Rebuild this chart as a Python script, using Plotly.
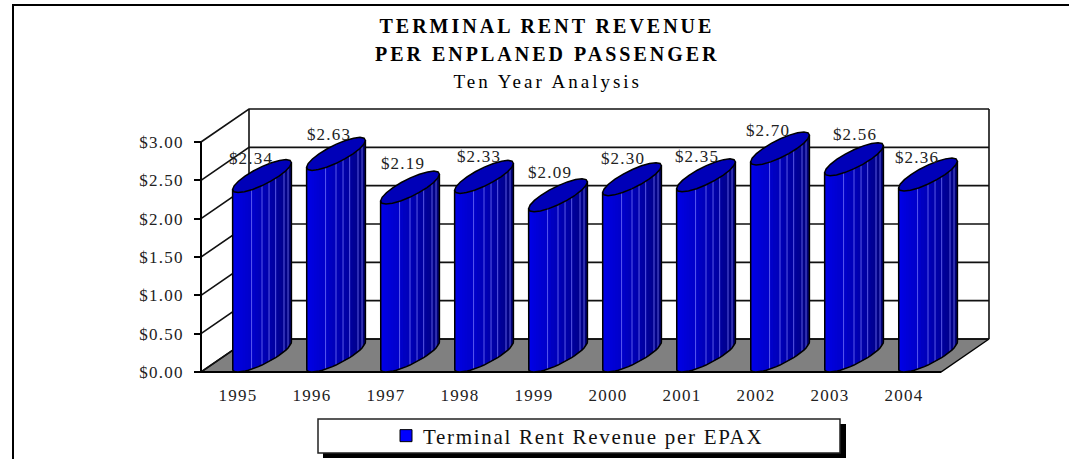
import math
import plotly.graph_objects as go

# ---- data ----
years = ["1995", "1996", "1997", "1998", "1999", "2000", "2001", "2002", "2003", "2004"]
revenue = [2.34, 2.63, 2.19, 2.33, 2.09, 2.30, 2.35, 2.70, 2.56, 2.36]
value_ticks = [0, 0.5, 1.0, 1.5, 2.0, 2.5, 3.0]
value_tick_labels = ["$0.00", "$0.50", "$1.00", "$1.50", "$2.00", "$2.50", "$3.00"]
series_name = "Terminal Rent Revenue per EPAX"

# ---- geometry of the oblique projection ----
W, H = 1069, 459
L, R, T, B = 201, 941, 142, 372          # front plane in pixels
PX_X = (R - L) / len(years)
PX_Y = (B - T) / 3.0
DX = 48 / PX_X                           # depth in category units
DY = 33 / PX_Y                           # depth in value units
HALF_W = 17 / PX_X                       # half width of a column


def pap_x(px):
    return px / W


def pap_y(py):
    return 1 - py / H


def ell(i, level, t):
    cx = i + DX / 2
    cy = level + DY / 2
    return cx + math.cos(t) * HALF_W + math.sin(t) * DX / 2, cy + math.sin(t) * DY / 2


T_R = math.atan2(DX / 2, HALF_W)
T_L = T_R - math.pi
N_STRIP = 26
N_RING = 20
t_edges = [T_L + (T_R - T_L) * k / N_STRIP for k in range(N_STRIP + 1)]


def strip_color(k):
    f = k / (N_STRIP - 1)
    if f < 0.4:
        blue = 240 - 40 * f / 0.4
    else:
        blue = 200 - 95 * (f - 0.4) / 0.6
    return f"rgb(0,0,{int(blue)})"


n = len(years)
cats = list(range(n))
fig = go.Figure()

# the series itself (front-left part of each column; the shaded body sits on it)
fig.add_trace(go.Bar(
    x=cats, y=revenue, name=series_name, width=0.16, offset=-0.07,
    marker=dict(color="#0000ff", line=dict(color="black", width=1)),
    showlegend=True, hoverinfo="skip",
))

# walls and floor
back_l, back_r = -0.5 + DX, n - 0.5 + DX
fig.add_trace(go.Scatter(
    x=[-0.5, n - 0.5, back_r, back_l, -0.5], y=[0, 0, DY, DY, 0],
    mode="lines", line=dict(color="black", width=1.5), fill="toself", fillcolor="#808080",
    showlegend=False, hoverinfo="skip"))
gx, gy = [], []
for v in value_ticks:
    gx += [-0.5, back_l, back_r, None]
    gy += [v, v + DY, v + DY, None]
gx += [back_l, back_l, None, back_r, back_r, None]
gy += [DY, 3 + DY, None, DY, 3 + DY, None]
fig.add_trace(go.Scatter(x=gx, y=gy, mode="lines", line=dict(color="#111111", width=1.6),
                         showlegend=False, hoverinfo="skip"))
# front axis lines
fig.add_trace(go.Scatter(x=[-0.5, -0.5, n - 0.5], y=[3, 0, 0], mode="lines",
                         line=dict(color="black", width=2), showlegend=False, hoverinfo="skip"))

# column bodies, one trace per shade; each strip overlaps the next to avoid seams
for k in range(N_STRIP):
    xs, ys = [], []
    for i, v in enumerate(revenue):
        a, b = t_edges[k], t_edges[min(k + 2, N_STRIP)]
        p1, p2, p3, p4 = ell(i, 0, a), ell(i, 0, b), ell(i, v, b), ell(i, v, a)
        xs += [p1[0], p2[0], p3[0], p4[0], p1[0], None]
        ys += [p1[1], p2[1], p3[1], p4[1], p1[1], None]
    fig.add_trace(go.Scatter(x=xs, y=ys, mode="none", fill="toself", fillcolor=strip_color(k),
                             showlegend=False, hoverinfo="skip"))

# pale facet lines on the right part of the columns
xs, ys = [], []
for i, v in enumerate(revenue):
    for k in (10, 13, 15, 17, 20, 22):
        p, q = ell(i, 0, t_edges[k]), ell(i, v, t_edges[k])
        xs += [p[0], q[0], None]
        ys += [p[1], q[1], None]
fig.add_trace(go.Scatter(x=xs, y=ys, mode="lines", line=dict(color="rgba(125,125,255,0.7)", width=1),
                         showlegend=False, hoverinfo="skip"))

# column outlines
xs, ys = [], []
for i, v in enumerate(revenue):
    p = ell(i, v, T_L)
    xs.append(p[0]); ys.append(p[1])
    for k in range(N_STRIP + 1):
        p = ell(i, 0, t_edges[k])
        xs.append(p[0]); ys.append(p[1])
    p = ell(i, v, T_R)
    xs += [p[0], None]; ys += [p[1], None]
fig.add_trace(go.Scatter(x=xs, y=ys, mode="lines", line=dict(color="black", width=1.5),
                         showlegend=False, hoverinfo="skip"))

# column tops
xs, ys = [], []
for i, v in enumerate(revenue):
    for k in range(N_RING + 1):
        p = ell(i, v, 2 * math.pi * k / N_RING)
        xs.append(p[0]); ys.append(p[1])
    xs.append(None); ys.append(None)
fig.add_trace(go.Scatter(x=xs, y=ys, mode="lines", line=dict(color="black", width=1.5),
                         fill="toself", fillcolor="#0000b8",
                         showlegend=False, hoverinfo="skip"))

# value labels
label_dx_px = [13, 17, 17, 19, 16, 15, 15, 12, 25, 13]
label_dy_px = [33, 35, 39, 36, 38, 36, 34, 33, 40, 32]
fig.add_trace(go.Scatter(
    x=[i + label_dx_px[i] / PX_X for i in cats],
    y=[v + label_dy_px[i] / PX_Y for i, v in enumerate(revenue)],
    mode="text", text=[f"${v:.2f}" for v in revenue], textposition="middle center",
    textfont=dict(family="Liberation Serif", size=17, color="#222222"),
    showlegend=False, hoverinfo="skip"))

title_lines = [("<b>TERMINAL RENT REVENUE</b>", 26, 20), ("<b>PER ENPLANED PASSENGER</b>", 54, 20),
               ("Ten Year Analysis", 81, 19)]
annotations = [dict(text=t, xref="paper", yref="paper", x=pap_x(547), y=pap_y(py), showarrow=False,
                    xanchor="center", yanchor="middle", font=dict(family="Liberation Serif", size=s, color="black"))
               for t, py, s in title_lines]

shapes = [
    # outer frame, open at the bottom and running off the right edge
    dict(type="path", xref="paper", yref="paper", layer="below",
         path=f"M {pap_x(13)} {pap_y(459)} L {pap_x(13)} {pap_y(5)} L {pap_x(1069)} {pap_y(5)}",
         line=dict(color="black", width=2)),
    # legend shadow and box
    dict(type="rect", xref="paper", yref="paper", layer="below",
         x0=pap_x(323), x1=pap_x(846), y0=pap_y(458), y1=pap_y(424), fillcolor="black", line=dict(width=0)),
    dict(type="rect", xref="paper", yref="paper", layer="below",
         x0=pap_x(318), x1=pap_x(840), y0=pap_y(453), y1=pap_y(419), fillcolor="white",
         line=dict(color="#222222", width=1.5)),
]

fig.update_layout(
    width=W, height=H, autosize=False,
    margin=dict(l=0, r=0, t=0, b=0, pad=0),
    paper_bgcolor="white", plot_bgcolor="rgba(0,0,0,0)",
    font=dict(family="Liberation Serif", size=17, color="#222222"),
    barmode="overlay",
    annotations=annotations, shapes=shapes,
    legend=dict(orientation="v", x=pap_x(386), y=pap_y(436), xanchor="left", yanchor="middle",
                bgcolor="rgba(0,0,0,0)", borderwidth=0, entrywidth=420, entrywidthmode="pixels",
                font=dict(family="Liberation Serif", size=21, color="#111111")),
    xaxis=dict(range=[-0.5 - L / PX_X, -0.5 + (W - L) / PX_X], tickmode="array", tickvals=cats, ticktext=years,
               showgrid=False, zeroline=False, showline=False, anchor="free", position=pap_y(B),
               ticks="", ticklabelstandoff=11, fixedrange=True),
    yaxis=dict(range=[-(H - B) / PX_Y, B / PX_Y], tickmode="array", tickvals=value_ticks, ticktext=value_tick_labels,
               showgrid=False, zeroline=False, showline=False, anchor="free", position=pap_x(L),
               ticks="outside", ticklen=7, tickwidth=1.5, tickcolor="black", ticklabelstandoff=7, fixedrange=True),
)

css = (".main-svg .xtick text,.main-svg .ytick text,.main-svg .textpoint text{letter-spacing:1.2px}"
       ".main-svg .annotation text{letter-spacing:3px}"
       ".main-svg .legendtext{letter-spacing:1.7px;transform:translateX(-3px)}"
       ".main-svg .legend .scrollbox{clip-path:none !important}")
fig.write_html("out.html", config={"displayModeBar": False},
               post_script="document.body.style.margin='0';var s=document.createElement('style');s.textContent='%s';document.head.appendChild(s);" % css)
